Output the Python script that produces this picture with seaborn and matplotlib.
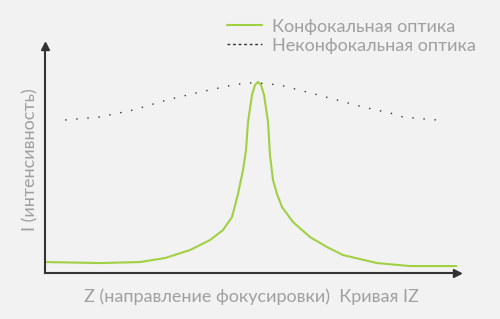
import numpy as np
import pandas as pd
import matplotlib
matplotlib.use("Agg")
import matplotlib.pyplot as plt
import seaborn as sns
from matplotlib.lines import Line2D

# Data (arbitrary units 0..100)
conf_z = [0, 13.35, 23.06, 29.13, 35.19, 40.05, 43.20, 45.39, 46.84, 48.06, 48.79, 49.27, 50.24,
          50.97, 51.70, 52.43, 53.16, 54.13, 54.61, 55.34, 56.31, 57.52, 60.19, 64.32, 68.45,
          72.33, 80.58, 88.59, 100]
conf_i = [4.85, 4.41, 4.85, 6.61, 10.13, 14.54, 18.94, 24.67, 34.80, 45.37, 54.19, 66.52, 78.41,
          82.82, 84.14, 82.82, 78.41, 66.52, 51.98, 40.97, 34.80, 29.07, 22.47, 15.86, 11.45,
          7.93, 4.41, 3.08, 3.08]
nonconf_z = [4.9, 13.3, 21.4, 29.6, 37.6, 45.6, 49.3, 51.7, 57.0, 63.6, 70.9, 77.2, 83.7, 86.9, 95.1]
nonconf_i = [67.4, 68.7, 71.8, 76.2, 79.7, 82.8, 83.7, 83.7, 82.8, 79.7, 76.2, 73.1, 70.5, 68.7, 67.4]

labels = ["Конфокальная оптика", "Неконфокальная оптика"]
xlabel = "Z (направление фокусировки)  Кривая IZ"
ylabel = "I (интенсивность)"

bg = "#f2f2f2"
green = "#a2d044"
dark = "#333333"
gray = "#a0a0a0"

sns.set_style("white")
plt.rcParams["font.family"] = ["Lato", "DejaVu Sans"]

fig = plt.figure(figsize=(5, 3.19), dpi=100, facecolor=bg)
ax = fig.add_axes([0.09, 0.144, 0.824, 0.712])
ax.set_facecolor(bg)

df_c = pd.DataFrame({"z": conf_z, "i": conf_i})
df_n = pd.DataFrame({"z": nonconf_z, "i": nonconf_i})
sns.lineplot(data=df_c, x="z", y="i", ax=ax, color=green, linewidth=1.5, sort=False)
sns.lineplot(data=df_n, x="z", y="i", ax=ax, color=dark, linewidth=1.0, sort=False,
             linestyle=(0, (1, 7)))

ax.set_xlim(0, 100)
ax.set_ylim(0, 100)
ax.set_xticks([])
ax.set_yticks([])
for s in ["top", "right"]:
    ax.spines[s].set_visible(False)
for s in ["left", "bottom"]:
    ax.spines[s].set_color(dark)
    ax.spines[s].set_linewidth(1.5)
ax.plot(1, 0, ">", transform=ax.transAxes, color=dark, markersize=6, clip_on=False)
ax.plot(0, 1, "^", transform=ax.transAxes, color=dark, markersize=6, clip_on=False)

ax.set_xlabel(xlabel, fontsize=13, color=gray, labelpad=11)
ax.set_ylabel(ylabel, fontsize=13, color=gray, labelpad=5)

handles = [Line2D([], [], color=green, linewidth=1.5),
           Line2D([], [], color=dark, linewidth=1.0, linestyle=(0, (2, 2)))]
leg = fig.legend(handles, labels, loc="upper left", bbox_to_anchor=(0.422, 0.992),
                 frameon=False, fontsize=13, labelcolor=gray, handlelength=1.9,
                 handletextpad=0.6, labelspacing=0.15)

fig.savefig("out.png", dpi=100, facecolor=bg)
